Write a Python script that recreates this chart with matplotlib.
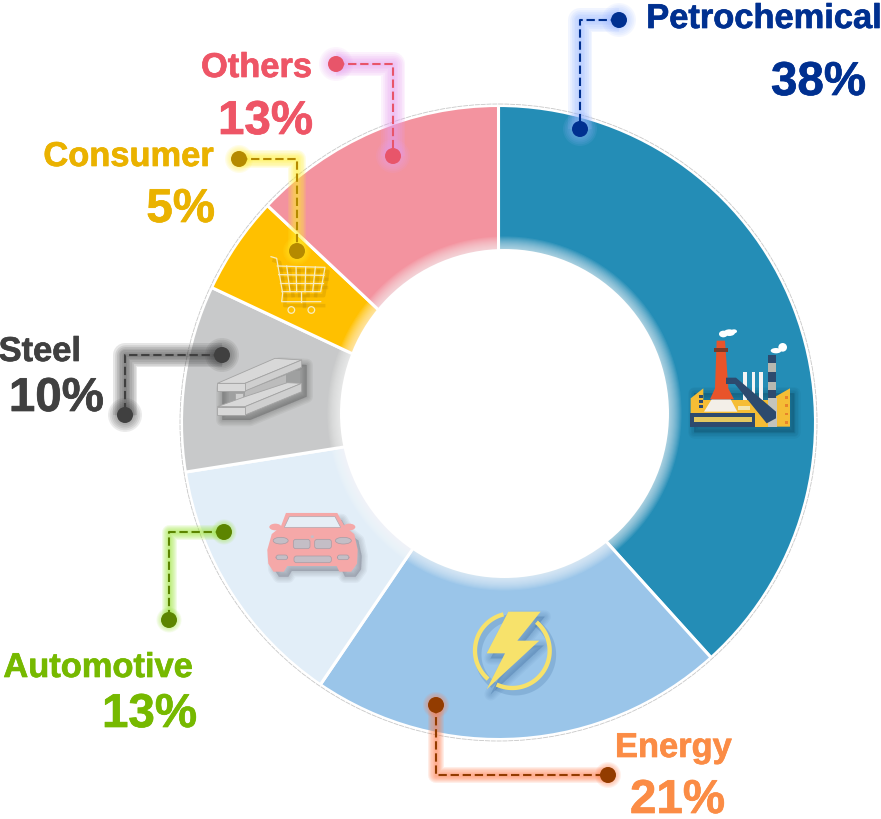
import numpy as np
import matplotlib
matplotlib.use('Agg')
import matplotlib.pyplot as plt
import matplotlib.patheffects as pe
from matplotlib.patches import Polygon, Circle, Ellipse, FancyBboxPatch

W, H = 881, 819
CX, CY, R = 498.5, 422.5, 317
HX, HY, HOLE = 504.5, 413.5, 164.5

plt.rcParams['font.family'] = ['Liberation Sans', 'DejaVu Sans']

labels = ['Petrochemical', 'Energy', 'Automotive', 'Steel', 'Consumer', 'Others']
percents = [38, 21, 13, 10, 5, 13]
# slice sizes as drawn in the picture, a little off the printed percents
shares = [38.3, 21.2, 13.0, 9.5, 5.0, 13.0]
wedge_colors = ['#248db6', '#9ac5e9', '#e2eef8', '#c8c9ca', '#ffc000', '#f3939f']
text_colors = ['#003090', '#fb8c45', '#76b900', '#404040', '#eab200', '#ee5566']
dot_colors = ['#003090', '#933c00', '#5c8500', '#404040', '#b58a00', '#e8556a']
glow_colors = ['#9ab8ff', '#ff8050', '#a0e840', '#404040', '#fff030', '#e8a0f0']
glow_widths = [24, 16, 15, 24, 18, 24]

# leader paths, in picture pixels
leaders = [
    [(619, 20), (580, 20), (580, 129)],
    [(436, 705), (436, 775), (608, 775)],
    [(224, 532), (169, 532), (169, 620)],
    [(222, 355), (125, 355), (125, 415)],
    [(239, 159), (297, 159), (297, 251)],
    [(336, 64), (393, 64), (393, 156)],
]
# right edge of text, baseline
name_pos = [(882, 28), (732, 757), (193, 677), (81, 361), (214, 166), (312, 77)]
pct_pos = [(866, 95), (725, 813), (197, 727), (104, 411), (215, 222), (313, 134)]

fig = plt.figure(figsize=(W / 100, H / 100), dpi=100)

# pie
ax = fig.add_axes([(CX - R) / W, 1 - (CY + R) / H, 2 * R / W, 2 * R / H])
ax.pie(shares, colors=wedge_colors, startangle=90, counterclock=False, radius=1,
       wedgeprops=dict(edgecolor='white', linewidth=2.2))
ax.set_xlim(-1, 1)
ax.set_ylim(-1, 1)
ax.set_aspect('equal')

# everything else in pixel coords
ov = fig.add_axes([0, 0, 1, 1], zorder=5)
ov.set_xlim(0, W)
ov.set_ylim(H, 0)
ov.axis('off')
ov.patch.set_alpha(0)

# thin outer rim and soft white edge of the hole (hole sits off centre)
ov.add_patch(Circle((CX, CY), R + 1.5, fill=False, ec='#c8c8c8', lw=0.6, ls=(0, (6, 1))))
for i in range(12, 0, -1):
    ov.add_patch(Circle((HX, HY), HOLE + i * 1.05, fc='white', ec='none', alpha=0.075))
ov.add_patch(Circle((HX, HY), HOLE, fc='white', ec='none'))


def pts(coords, ox, oy):
    # zoom crop coords (3x) to picture pixels
    return [(ox + x / 3, oy + y / 3) for x, y in coords]


def poly(coords, ox, oy, color, ec='none', lw=0, z=6):
    ov.add_patch(Polygon(pts(coords, ox, oy), closed=True, fc=color, ec=ec, lw=lw, zorder=z))


def blob(ox, oy, x, y, w, h, color, ec='none', lw=0, z=6):
    ov.add_patch(Ellipse((ox + x / 3, oy + y / 3), w / 3, h / 3, fc=color, ec=ec, lw=lw, zorder=z))


def shadow(coords, ox, oy, dx=4, dy=5, color='#202020', strength=0.05, z=5.5):
    p = [(x + dx, y + dy) for x, y in pts(coords, ox, oy)]
    for lw in (9, 7, 5, 3, 1):
        ov.add_patch(Polygon(p, closed=True, fc=color, ec=color, lw=lw, alpha=strength,
                             zorder=z, joinstyle='round'))


# factory
FX, FY = 660, 310
DARK = '#2d4a6e'
YEL = '#f5bd35'
shadow([(90, 235), (390, 235), (390, 350), (90, 350)], FX, FY, color='#0a3a50', strength=0.06)
poly([(92, 265), (130, 235), (130, 310), (92, 310)], FX, FY, YEL)
poly([(130, 270), (325, 270), (325, 350), (130, 350)], FX, FY, YEL)
poly([(325, 272), (390, 235), (390, 350), (325, 350)], FX, FY, YEL)
poly([(90, 310), (285, 310), (285, 350), (90, 350)], FX, FY, DARK)
poly([(103, 322), (275, 322), (275, 336), (103, 336)], FX, FY, '#e3c860')
for x in (250, 275, 298):
    poly([(x, 185), (x + 10, 185), (x + 10, 270), (x, 270)], FX, FY, '#f4f4f4')
poly([(323, 135), (348, 135), (348, 265), (323, 265)], FX, FY, DARK)
for y in (160, 215):
    poly([(323, y), (348, y), (348, y + 25), (323, y + 25)], FX, FY, '#b8b8b0')
poly([(323, 265), (350, 265), (350, 350), (323, 350)], FX, FY, '#c4c4bc')
poly([(132, 305), (155, 268), (212, 268), (232, 305)], FX, FY, '#f3efe8')
poly([(170, 92), (195, 92), (205, 235), (222, 268), (150, 268), (165, 235)], FX, FY, '#e8542a')
poly([(163, 115), (203, 115), (203, 125), (163, 125)], FX, FY, '#7a3a28')
poly([(198, 203), (228, 203), (348, 305), (348, 325), (320, 340), (225, 222), (198, 222)],
     FX, FY, DARK)
poly([(235, 288), (270, 288), (270, 300), (235, 300)], FX, FY, '#f3e6b0')
for y in (255, 270, 285):
    poly([(118, y), (128, y), (128, y + 8), (118, y + 8)], FX, FY, DARK)
for y in (258, 283, 308, 333):
    poly([(374, y), (384, y), (384, y + 8), (374, y + 8)], FX, FY, '#e8842a')
for ex, ey, ew, eh in [(190, 72, 26, 20), (208, 68, 34, 20), (222, 64, 18, 12),
                       (348, 122, 32, 16), (368, 112, 26, 26)]:
    blob(FX, FY, ex, ey, ew, eh, 'white')

# bolt
BX, BY = 460, 600
bolt = [(145, 35), (242, 35), (172, 122), (238, 122), (80, 268), (135, 160), (80, 160)]
shadow(bolt, BX, BY, color='#2a5a90', strength=0.05)
for a0, a1 in [(-103.8, -229.6), (-49.8, 114.8)]:
    th = np.radians(np.linspace(a0, a1, 80))
    xs = BX + (157 + 112 * np.cos(th)) / 3
    ys = BY + (152 + 112 * np.sin(th)) / 3
    ov.plot(xs + 3, ys + 4, color='#2a5a90', lw=5, alpha=0.18, zorder=5.5)
    ov.plot(xs, ys, color='#f7e26b', lw=3.1, zorder=6, solid_capstyle='butt')
poly(bolt, BX, BY, '#f7e26b')

# car
CRX, CRY = 250, 500
body = [(95, 82), (110, 42), (260, 42), (282, 82), (310, 104), (320, 150), (318, 190),
        (302, 212), (270, 212), (262, 195), (110, 195), (100, 212), (72, 212), (58, 190),
        (55, 150), (68, 104)]
shadow(body, CRX, CRY, dx=5, dy=6, color='#404050', strength=0.05)
poly(body, CRX, CRY, '#f5a8a8', ec='#f5a8a8', lw=1.5)
blob(CRX, CRY, 76, 81, 36, 20, '#f5a8a8')
blob(CRX, CRY, 298, 81, 36, 20, '#f5a8a8')
poly([(103, 82), (118, 50), (255, 50), (272, 82)], CRX, CRY, '#e6eef6', ec='#b0a8b0', lw=0.5, z=7)
GLASS, GLASS_EC = '#c4bec6', '#a89ca4'
for ex, ey, ew, eh in [(92, 122, 45, 20), (280, 122, 48, 20)]:
    blob(CRX, CRY, ex, ey, ew, eh, GLASS, GLASS_EC, 0.5, z=7)
for x0, y0, w0, h0 in [(130, 118, 50, 28), (194, 118, 50, 28), (132, 168, 112, 20),
                       (78, 165, 35, 14), (262, 165, 35, 14)]:
    ov.add_patch(FancyBboxPatch((CRX + x0 / 3, CRY + y0 / 3), w0 / 3, h0 / 3,
                                boxstyle='round,pad=0,rounding_size=2.5', fc=GLASS, ec=GLASS_EC,
                                lw=0.5, zorder=7))
blob(CRX, CRY, 187, 110, 10, 8, GLASS)

# steel beam
SX, SY = 200, 230
beam_all = [(52, 460), (225, 385), (305, 390), (305, 485), (135, 555), (52, 555)]
shadow(beam_all, SX, SY, dx=5, dy=5, color='#303030', strength=0.06)
FACE, TOP, EDGE = '#cfcfcf', '#d8d8d8', '#a4a4a4'
poly([(135, 483), (258, 435), (258, 462), (135, 512)], SX, SY, '#bcbcbc')
poly([(105, 488), (130, 488), (130, 512), (105, 512)], SX, SY, FACE, EDGE, 0.6)
poly([(52, 530), (135, 500), (262, 458), (305, 460), (135, 530)], SX, SY, TOP, EDGE, 0.6)
poly([(135, 530), (305, 460), (305, 485), (135, 555)], SX, SY, FACE, EDGE, 0.6)
poly([(52, 530), (135, 530), (135, 555), (52, 555)], SX, SY, TOP, EDGE, 0.6)
poly([(52, 460), (225, 385), (305, 390), (135, 460)], SX, SY, TOP, EDGE, 0.6)
poly([(135, 460), (305, 390), (305, 412), (135, 483)], SX, SY, FACE, EDGE, 0.6)
poly([(52, 460), (135, 460), (135, 483), (52, 483)], SX, SY, TOP, EDGE, 0.6)

# cart
CART = '#f8ecc0'
cart_lines = [[(213, 80), (230, 85), (248, 190), (245, 215), (362, 215)],
              [(232, 108), (375, 112), (362, 185), (246, 185)],
              [(236, 134), (372, 136)], [(241, 160), (368, 160)],
              [(260, 108), (270, 185)], [(288, 110), (290, 185)], [(317, 110), (315, 185)],
              [(346, 111), (338, 185)], [(302, 185), (302, 215)]]
for seg in cart_lines:
    xs, ys = zip(*pts(seg, SX, SY))
    ov.plot(np.array(xs) + 3, np.array(ys) + 4, color='#8a6000', lw=2.5, alpha=0.16, zorder=5.5)
    ov.plot(xs, ys, color=CART, lw=0.9, zorder=6)
for wx in (274, 334):
    ov.add_patch(Circle((SX + wx / 3, SY + 240 / 3), 3.3, fc='none', ec=CART, lw=0.9, zorder=6))

# leaders, glow, dots, text
stroke = [pe.withStroke(linewidth=0.5)]
for i, path in enumerate(leaders):
    xs, ys = zip(*path)
    col = text_colors[i]
    for w in np.linspace(glow_widths[i], 3, 7):
        ov.plot(xs, ys, color=glow_colors[i], lw=w * 0.72, alpha=0.13, zorder=8,
                solid_capstyle='butt', solid_joinstyle='round')
        for (x, y) in (path[0], path[-1]):
            ov.add_patch(Circle((x, y), w / 2 + 5, fc=glow_colors[i], ec='none', alpha=0.1, zorder=8))
    ov.plot(xs, ys, color=dot_colors[i], lw=1.5, ls=(0, (4, 1.8)), zorder=9)
    for (x, y) in (path[0], path[-1]):
        ov.add_patch(Circle((x, y), 8, fc=dot_colors[i], ec='none', zorder=10))
    t1 = ov.text(name_pos[i][0], name_pos[i][1], labels[i], color=col, fontsize=24.8,
                 fontweight='bold', ha='right', va='baseline', zorder=11)
    t2 = ov.text(pct_pos[i][0], pct_pos[i][1], f'{percents[i]}%', color=col, fontsize=34.2,
                 fontweight='bold', ha='right', va='baseline', zorder=11)
    for t in (t1, t2):
        t.set_path_effects([pe.withStroke(linewidth=0.5, foreground=col)])

fig.savefig('out.png', dpi=100)
